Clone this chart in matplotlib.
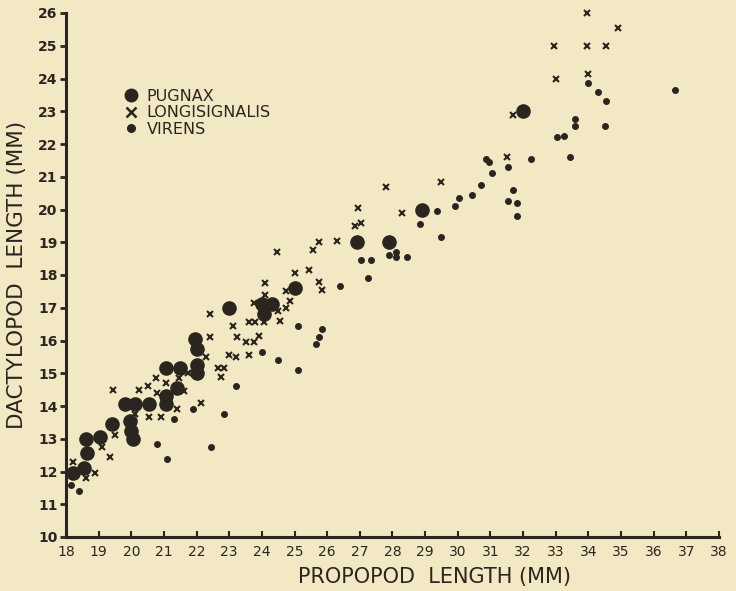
import matplotlib
matplotlib.use("Agg")
import matplotlib.pyplot as plt
from matplotlib.lines import Line2D

# ---- data ----
pugnax_x = [18.2, 18.55, 18.65, 18.6, 19.05, 19.4, 19.95, 20.0, 20.05, 19.8, 20.1, 20.55,
            21.05, 21.05, 21.4, 21.05, 21.5, 22.0, 22.0, 21.95, 22.0, 23.0, 24.0, 24.3,
            24.05, 25.0, 26.9, 27.9, 28.9, 32.0]
pugnax_y = [11.95, 12.1, 12.55, 13.0, 13.05, 13.45, 13.55, 13.25, 13.0, 14.05, 14.05, 14.05,
            14.05, 14.3, 14.55, 15.15, 15.15, 15.25, 15.0, 16.05, 15.75, 17.0, 17.1, 17.1,
            16.8, 17.6, 19.0, 19.0, 20.0, 23.0]

longi_x = [18.2, 18.6, 18.9, 19.35, 19.1, 19.5, 19.45, 20.1, 20.55, 20.9, 20.25, 20.5,
           20.75, 20.8, 21.05, 21.45, 21.6, 21.4, 21.75, 22.15, 22.4, 22.3, 22.65, 22.85,
           22.75, 22.4, 23.0, 23.2, 23.6, 23.1, 23.25, 23.5, 23.75, 23.9, 23.6, 23.8,
           24.05, 24.55, 23.75, 24.1, 24.1, 24.5, 24.75, 24.85, 24.75, 24.45, 25.0, 25.45,
           25.75, 25.85, 25.55, 25.75, 26.3, 26.85, 27.05, 26.95, 27.8, 28.3, 29.5, 31.5,
           31.7, 32.95, 33.95, 34.9, 33.95, 34.55, 33.0, 34.0]
longi_y = [12.3, 11.8, 11.95, 12.45, 12.75, 13.1, 14.5, 13.75, 13.65, 13.65, 14.5, 14.6,
           14.85, 14.4, 14.7, 14.85, 14.45, 13.9, 15.0, 14.1, 16.1, 15.5, 15.15, 15.15,
           14.9, 16.8, 15.55, 15.5, 15.55, 16.45, 16.1, 15.95, 15.95, 16.15, 16.55, 16.55,
           16.55, 16.6, 17.15, 17.75, 17.4, 16.9, 17.0, 17.2, 17.5, 18.7, 18.05, 18.15,
           17.8, 17.55, 18.75, 19.0, 19.05, 19.5, 19.6, 20.05, 20.7, 19.9, 20.85, 21.6,
           22.9, 25.0, 26.0, 25.55, 25.0, 25.0, 24.0, 24.15]

virens_x = [18.15, 18.4, 20.8, 21.1, 21.3, 21.9, 22.85, 22.45, 23.2, 24.0, 24.5, 25.1,
            25.1, 25.85, 25.75, 25.65, 26.4, 27.05, 27.35, 27.25, 27.9, 28.1, 28.1, 28.45,
            28.85, 29.5, 29.35, 29.9, 30.05, 30.45, 30.7, 31.05, 30.85, 30.95, 31.55, 32.25,
            31.7, 31.55, 31.8, 31.8, 33.05, 33.25, 33.45, 33.6, 33.6, 34.5, 34.0, 34.3,
            34.55, 36.65]
virens_y = [11.6, 11.4, 12.85, 12.37, 13.6, 13.9, 13.75, 12.75, 14.6, 15.65, 15.4, 15.1,
            16.45, 16.35, 16.1, 15.9, 17.65, 18.45, 18.45, 17.9, 18.6, 18.7, 18.55, 18.55,
            19.55, 19.15, 19.95, 20.1, 20.35, 20.45, 20.75, 21.1, 21.55, 21.45, 21.3, 21.55,
            20.6, 20.25, 20.2, 19.8, 22.2, 22.25, 21.6, 22.75, 22.55, 22.55, 23.85, 23.6,
            23.3, 23.65]

x_ticks = list(range(18, 39))
y_ticks = list(range(10, 27))
labels = ["PUGNAX", "LONGISIGNALIS", "VIRENS"]

# ---- style ----
bg = "#F2E8C3"
ink = "#2b2520"
plt.rcParams['font.family'] = ['DejaVu Sans']

fig = plt.figure(figsize=(7.36, 5.91), dpi=100, facecolor=bg)
ax = fig.add_axes([66/736, 54/591, 653/736, 524/591], facecolor=bg)

ax.plot(pugnax_x, pugnax_y, 'o', ms=9.5, color=ink, mec=ink, linestyle='none',
        zorder=3, clip_on=False)
ax.plot(longi_x, longi_y, 'x', ms=5.0, mew=1.5, color=ink, linestyle='none',
        zorder=2, clip_on=False)
ax.plot(virens_x, virens_y, 'o', ms=4.0, color=ink, mec=ink, linestyle='none',
        zorder=2, clip_on=False)

ax.set_xlim(18, 38)
ax.set_ylim(10, 26)
ax.set_xticks(x_ticks)
ax.set_yticks(y_ticks)
ax.set_xticklabels([str(t) for t in x_ticks], fontsize=10, color=ink)
ax.set_yticklabels([str(t) for t in y_ticks], fontsize=10, color=ink, fontweight='bold')

for s in ['top', 'right']:
    ax.spines[s].set_visible(False)
for s in ['left', 'bottom']:
    ax.spines[s].set_color(ink)
    ax.spines[s].set_linewidth(2.2)

ax.tick_params(axis='y', direction='out', length=4, width=2, color=ink, pad=2)
ax.tick_params(axis='x', direction='in', length=4, width=1.5, color=ink, pad=6)

ax.set_xlabel("PROPOPOD  LENGTH (MM)", fontsize=15, color=ink)
ax.xaxis.set_label_coords((434 - 66) / 653, -0.058)
ax.set_ylabel("DACTYLOPOD  LENGTH (MM)", fontsize=15.5, color=ink)
ax.yaxis.set_label_coords(-0.06, 0.5)

handles = [
    Line2D([], [], marker='o', ms=9, color=ink, linestyle='none'),
    Line2D([], [], marker='x', ms=7, mew=1.8, color=ink, linestyle='none'),
    Line2D([], [], marker='o', ms=5.5, color=ink, linestyle='none'),
]
leg = ax.legend(handles, labels, loc='upper left', bbox_to_anchor=(0.087, 0.855),
                frameon=False, fontsize=11.5, handlelength=1.0, handletextpad=0.5,
                labelspacing=0.08, borderpad=0, borderaxespad=0)
for t in leg.get_texts():
    t.set_color(ink)

fig.savefig("out.png", dpi=100, facecolor=bg)
